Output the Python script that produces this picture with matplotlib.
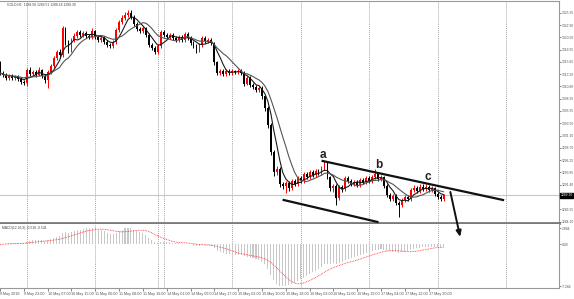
import matplotlib
matplotlib.use("Agg")
import matplotlib.pyplot as plt
from matplotlib.patches import ConnectionPatch
import numpy as np
import pandas as pd

# GOLD H1 bars (price values)
first_open = 1315.42
closes = [
    1313.45, 1313.06, 1312.46, 1312.86, 1312.46, 1312.66, 1312.27, 1311.67, 1311.47, 1314.04,
    1313.25, 1313.65, 1313.06, 1314.04, 1312.86, 1312.07, 1313.65, 1314.83, 1316.41, 1317.60,
    1317.00, 1322.33, 1319.57, 1317.99, 1319.96, 1320.75, 1321.54, 1320.95, 1321.35, 1320.75,
    1320.56, 1321.74, 1320.56, 1319.96, 1320.36, 1319.57, 1318.98, 1318.78, 1319.57, 1321.94,
    1323.52, 1324.31, 1324.90, 1325.29, 1324.50, 1323.12, 1322.14, 1321.74, 1322.33, 1320.95,
    1318.98, 1318.39, 1317.60, 1318.78, 1321.54, 1320.95, 1320.56, 1320.95, 1320.36, 1319.96,
    1320.56, 1319.96, 1321.15, 1320.36, 1319.37, 1318.78, 1317.99, 1318.98, 1320.36, 1319.77,
    1319.96, 1319.37, 1315.62, 1313.45, 1313.84, 1313.25, 1313.84, 1313.45, 1313.84, 1313.65,
    1313.84, 1313.45, 1311.28, 1312.46, 1311.08, 1310.69, 1310.09, 1310.49, 1308.91, 1306.54,
    1303.19, 1297.86, 1293.91, 1294.50, 1291.54, 1291.14, 1291.74, 1290.75, 1292.13, 1291.54,
    1292.72, 1292.13, 1293.51, 1292.92, 1293.91, 1293.32, 1294.10, 1293.71, 1294.70, 1295.49,
    1292.92, 1290.75, 1291.14, 1288.77, 1290.95, 1290.55, 1292.72, 1292.13, 1291.54, 1291.93,
    1291.34, 1292.33, 1291.93, 1292.72, 1292.13, 1292.92, 1293.51, 1292.53, 1292.92, 1291.14,
    1289.37, 1288.58, 1289.17, 1287.79, 1287.39, 1288.38, 1288.97, 1288.58, 1290.35, 1290.75,
    1290.16, 1290.95, 1290.55, 1290.95, 1290.35, 1290.75, 1289.56, 1288.97, 1288.58, 1289.30,
]
highs = [
    1315.8, 1313.9, 1313.4, 1313.3, 1313.2, 1313.1, 1313.0, 1312.6, 1312.0, 1314.4,
    1314.6, 1314.1, 1314.0, 1314.7, 1314.3, 1313.2, 1314.0, 1315.3, 1316.9, 1318.0,
    1318.1, 1322.8, 1322.6, 1320.0, 1320.4, 1321.3, 1322.0, 1321.9, 1321.8, 1321.7,
    1321.1, 1322.3, 1322.0, 1320.9, 1320.8, 1320.7, 1319.9, 1319.3, 1320.0, 1322.3,
    1324.0, 1324.8, 1325.4, 1325.9, 1325.9, 1324.8, 1323.5, 1322.6, 1322.8, 1322.6,
    1321.3, 1319.4, 1318.8, 1319.2, 1322.0, 1322.0, 1321.4, 1321.4, 1321.3, 1320.8,
    1321.0, 1320.9, 1321.6, 1321.5, 1320.7, 1319.8, 1319.1, 1319.4, 1320.8, 1320.7,
    1320.4, 1320.3, 1319.6, 1315.9, 1314.3, 1314.2, 1314.2, 1314.2, 1314.3, 1314.1,
    1314.2, 1314.2, 1313.8, 1312.9, 1312.8, 1311.5, 1311.0, 1310.9, 1310.8, 1309.2,
    1306.9, 1303.5, 1298.2, 1295.1, 1294.8, 1292.0, 1292.2, 1292.1, 1292.6, 1292.5,
    1293.2, 1293.1, 1293.9, 1293.9, 1294.3, 1294.3, 1294.5, 1294.5, 1295.1, 1296.1,
    1295.8, 1293.2, 1291.6, 1291.5, 1291.4, 1291.4, 1293.1, 1293.1, 1292.5, 1292.4,
    1292.3, 1292.8, 1292.7, 1293.2, 1293.1, 1293.4, 1294.5, 1293.9, 1293.4, 1293.2,
    1291.5, 1289.8, 1289.6, 1289.5, 1288.2, 1288.8, 1289.4, 1289.4, 1290.8, 1291.3,
    1291.1, 1291.6, 1291.6, 1291.5, 1291.4, 1291.2, 1291.0, 1289.9, 1289.3, 1289.51,
]
lows = [
    1313.1, 1312.6, 1312.1, 1312.0, 1312.0, 1312.1, 1311.8, 1311.2, 1311.0, 1310.9,
    1312.8, 1312.9, 1312.6, 1312.8, 1312.4, 1311.5, 1310.5, 1313.3, 1314.5, 1316.1,
    1316.5, 1316.7, 1319.0, 1317.4, 1317.6, 1319.5, 1320.3, 1320.6, 1320.6, 1320.3,
    1320.1, 1320.2, 1320.2, 1319.5, 1319.6, 1319.1, 1318.5, 1318.3, 1318.4, 1319.2,
    1321.6, 1323.1, 1324.0, 1324.5, 1324.1, 1322.7, 1321.7, 1321.3, 1321.4, 1320.5,
    1318.5, 1317.9, 1317.1, 1317.2, 1318.4, 1320.5, 1320.1, 1320.2, 1319.9, 1319.5,
    1319.6, 1319.5, 1319.6, 1319.9, 1318.9, 1318.3, 1317.4, 1317.6, 1318.6, 1319.3,
    1319.4, 1318.9, 1315.1, 1313.0, 1313.0, 1312.9, 1312.9, 1313.0, 1313.1, 1313.2,
    1313.3, 1313.0, 1310.8, 1311.0, 1310.6, 1310.2, 1309.6, 1309.7, 1308.4, 1306.0,
    1302.6, 1297.2, 1293.2, 1293.4, 1291.0, 1290.5, 1289.7, 1290.2, 1290.4, 1291.1,
    1291.2, 1291.7, 1291.8, 1292.5, 1292.6, 1292.9, 1293.0, 1293.3, 1293.4, 1294.4,
    1292.5, 1290.2, 1290.0, 1287.4, 1288.4, 1290.0, 1290.2, 1291.7, 1291.1, 1291.1,
    1290.9, 1291.0, 1291.5, 1291.6, 1291.7, 1291.8, 1292.6, 1292.1, 1292.1, 1290.7,
    1288.9, 1288.1, 1288.1, 1287.3, 1285.0, 1287.0, 1288.0, 1288.1, 1288.2, 1290.0,
    1289.7, 1289.8, 1290.1, 1290.2, 1289.9, 1290.0, 1289.1, 1288.5, 1288.1, 1288.18,
]
# MACD main line (histogram) as shown in the lower window
macd_main = [
    0.0, 0.1, 0.1, 0.2, 0.2, 0.3, 0.3, 0.3, 0.3, 0.5,
    0.6, 0.7, 0.7, 0.8, 0.7, 0.6, 0.7, 0.9, 1.1, 1.3,
    1.4, 2.0, 2.1, 2.0, 2.1, 2.3, 2.5, 2.6, 2.7, 2.8,
    2.8, 2.9, 2.8, 2.6, 2.5, 2.3, 2.0, 1.8, 1.8, 2.0,
    2.3, 2.6, 2.8, 2.9, 2.8, 2.6, 2.3, 2.1, 2.0, 1.7,
    1.2, 0.8, 0.4, 0.3, 0.5, 0.5, 0.4, 0.4, 0.3, 0.2,
    0.2, 0.1, 0.1, 0.1, 0.0, -0.2, -0.3, -0.3, -0.1, -0.1,
    -0.1, -0.3, -0.7, -1.1, -1.3, -1.5, -1.6, -1.7, -1.8, -1.8,
    -1.8, -1.9, -2.1, -2.2, -2.3, -2.4, -2.6, -2.7, -3.0, -3.5,
    -4.3, -5.4, -6.3, -6.9, -7.2, -7.28, -7.2, -7.1, -6.9, -6.7,
    -6.4, -6.1, -5.8, -5.5, -5.2, -4.9, -4.6, -4.3, -3.9, -3.5,
    -3.4, -3.4, -3.3, -3.4, -3.2, -3.0, -2.7, -2.5, -2.3, -2.2,
    -2.0, -1.8, -1.7, -1.5, -1.4, -1.2, -1.0, -0.9, -0.8, -0.9,
    -1.1, -1.2, -1.3, -1.4, -1.5, -1.4, -1.3, -1.2, -1.0, -0.8,
    -0.7, -0.6, -0.5, -0.5, -0.5, -0.4, -0.4, -0.5, -0.5, -0.518,
]

time_labels = ['9 May 2018', '9 May 23:00', '10 May 07:00', '10 May 15:00', '11 May 00:00',
               '11 May 08:00', '11 May 16:00', '14 May 01:00', '14 May 09:00', '14 May 17:00',
               '15 May 02:00', '15 May 10:00', '15 May 18:00', '16 May 03:00', '16 May 11:00',
               '16 May 19:00', '17 May 04:00', '17 May 12:00', '17 May 20:00']
separator_bars = [9, 32, 53, 55, 78, 101, 124, 147, 170]
price_ticks = [1325.35, 1322.90, 1320.50, 1318.05, 1315.65, 1313.20, 1310.80, 1308.35,
               1305.95, 1303.50, 1301.10, 1298.70, 1296.25, 1293.85, 1291.40, 1286.55, 1284.10]
macd_ticks = [2.884, 0.0, -7.284]

# hand drawn objects: (bar, price)
upper_line = [(108.4, 1296.08), (169.0, 1288.38)]
lower_line = [(95.3, 1288.38), (126.8, 1284.05)]
wave_marks = [('a', 108.4, 1297.3), ('b', 127.2, 1295.3), ('c', 143.6, 1292.9)]

df = pd.DataFrame({'close': closes, 'high': highs, 'low': lows, 'macd': macd_main})
df['open'] = df['close'].shift(1).fillna(first_open)
x = np.arange(len(df))
ma_fast = df['close'].rolling(5, min_periods=1).mean()
ma_slow = df['close'].rolling(10, min_periods=1).mean()
signal = df['macd'].rolling(9, min_periods=1).mean()

small = dict(fontsize=2.4, family='Liberation Sans')
date_font = dict(fontsize=2.7, family='Liberation Sans')

fig = plt.figure(figsize=(5.74, 2.99), dpi=100)
fig.patch.set_facecolor('white')
ax = fig.add_axes([0, 1 - 223 / 299, 559 / 574, 222 / 299])
ax2 = fig.add_axes([0, 1 - 288 / 299, 559 / 574, 64 / 299], sharex=ax)

bull = df['close'] >= df['open']
colors = np.where(bull, '#ff0000', '#000000')
ax.vlines(x, df['low'], df['high'], colors=colors, linewidth=0.7, zorder=3)
body_lo = np.minimum(df['open'], df['close'])
body_h = np.maximum(np.abs(df['close'] - df['open']), 0.12)
ax.bar(x, body_h, bottom=body_lo, width=0.62, color=colors, linewidth=0, zorder=4)
ax.plot(x, ma_fast, color='#1a1a1a', linewidth=0.8, zorder=5)
ax.plot(x, ma_slow, color='#555555', linewidth=0.8, zorder=5)

last = df['close'].iloc[-1]
ax.axhline(last, color='#c8c8c8', linewidth=0.8, zorder=1)
for b in separator_bars:
    ax.axvline(b, color='#a8a8a8', linestyle=(0, (1, 1)), linewidth=0.7, zorder=1)
    ax2.axvline(b, color='#a8a8a8', linestyle=(0, (1, 1)), linewidth=0.7, zorder=1)

ax.plot(*zip(*upper_line), color='#111111', linewidth=1.6, zorder=6)
ax.plot(*zip(*lower_line), color='#111111', linewidth=1.6, zorder=6, clip_on=False)
for t, bx, py in wave_marks:
    ax.text(bx, py, t, ha='center', va='center', fontsize=8.5, fontweight='bold',
            family='Liberation Sans', color='#222222', zorder=7)

ax.set_xlim(0.54, 187.8)
ax.set_ylim(1283.84, 1327.66)
ax2.set_ylim(-7.63, 3.585)

ax.text(2.5, 1327.0, 'GOLD,H1  1288.58 1289.51 1288.18 1289.30', color='#444444',
        va='center', ha='left', **small)
ax2.text(0.8, 2.9, 'MACD(12,26,9) -0.518 -0.541', color='#444444', va='center', **small)

# MACD panel
ax2.bar(x, df['macd'], width=0.35, color='#c8c8c8', linewidth=0, zorder=2)
ax2.plot(x, signal, color='#ff3030', linestyle=(0, (1, 1)), linewidth=0.6, zorder=3)

for a in (ax, ax2):
    a.yaxis.tick_right()
    a.tick_params(axis='y', length=1.5, width=0.5, pad=0.5, colors='#555555')
    a.spines['left'].set_visible(False)
    a.spines['right'].set_color('#999999')
    a.spines['top'].set_color('#999999')
    a.spines['bottom'].set_color('#999999')
ax.spines['bottom'].set_linewidth(2)
ax.spines['bottom'].set_color('#7a7a7a')
ax2.spines['top'].set_visible(False)

ax.set_yticks(price_ticks)
ax.set_yticklabels([f'{v:.2f}' for v in price_ticks], **small)
ax.tick_params(axis='x', bottom=False, labelbottom=False)
ax2.set_yticks(macd_ticks)
ax2.set_yticklabels(['2.884', '0.00', '-7.284'], **small)
ax2.set_xticks(np.arange(0, 8 * len(time_labels), 8))
ax2.set_xticklabels(time_labels, ha='left', **date_font)
ax2.tick_params(axis='x', length=2, width=0.5, pad=1, colors='#555555')

ax.text(1.003, (last - 1283.84) / (1327.66 - 1283.84), f'{last:.2f}', transform=ax.transAxes,
        color='white', va='center', ha='left',
        bbox=dict(boxstyle='square,pad=0.1', fc='black', ec='black'), clip_on=False, **small)

arrow = ConnectionPatch(xyA=(151.3, 1289.96), coordsA=ax.transData,
                        xyB=(154.6, 1.31), coordsB=ax2.transData,
                        arrowstyle='-|>,head_length=0.35,head_width=0.15',
                        color='#111111', linewidth=1.4, mutation_scale=10)
fig.add_artist(arrow)

fig.savefig('out.png', dpi=100)
